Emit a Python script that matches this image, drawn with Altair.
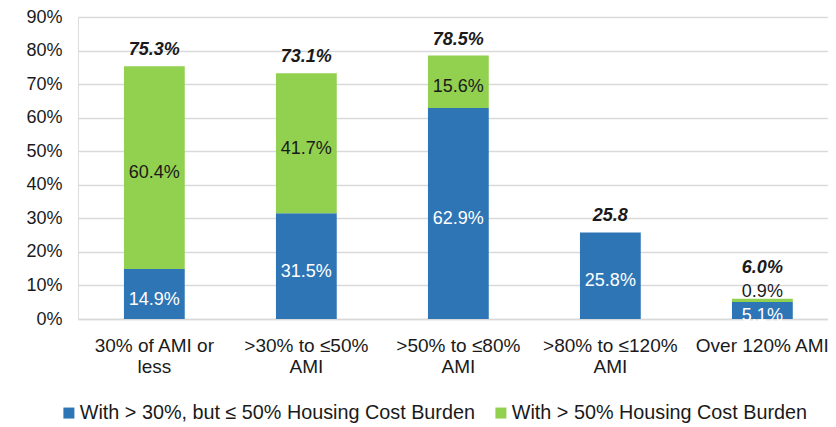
import altair as alt
import pandas as pd

categories = ["30% of AMI or\nless", ">30% to ≤50%\nAMI", ">50% to ≤80%\nAMI",
              ">80% to ≤120%\nAMI", "Over 120% AMI"]
burden_30_50 = [14.9, 31.5, 62.9, 25.8, 5.1]
burden_50 = [60.4, 41.7, 15.6, 0.0, 0.9]
total_labels = ["75.3%", "73.1%", "78.5%", "25.8", "6.0%"]
series_names = ["With > 30%, but ≤ 50% Housing Cost Burden",
                "With > 50% Housing Cost Burden"]
y_ticks = [0, 10, 20, 30, 40, 50, 60, 70, 80, 90]

BLUE = "#2E75B6"
GREEN = "#92D050"
FONT = "Liberation Sans"
TXT = "#1a1a1a"

rows = []
for i, c in enumerate(categories):
    a, b = burden_30_50[i], burden_50[i]
    rows.append(dict(cat=c, series=series_names[0], value=a, y0=0, y1=a,
                     mid=a / 2, total=a + b, label=f"{a:.1f}%", small=a < 3))
    rows.append(dict(cat=c, series=series_names[1], value=b, y0=a, y1=a + b,
                     mid=a + b / 2, total=a + b, label=f"{b:.1f}%", small=b < 3))
df = pd.DataFrame(rows)
df = df[df["value"] > 0]

tot = pd.DataFrame(dict(cat=categories,
                        total=[a + b for a, b in zip(burden_30_50, burden_50)],
                        label=total_labels,
                        smallgreen=[0 < b < 3 for b in burden_50]))

xaxis = alt.Axis(labelExpr="split(datum.label, '\\n')", labelAngle=0,
                 labelFontSize=19, labelLineHeight=21, labelPadding=17,
                 labelColor=TXT, ticks=False, domain=True,
                 domainColor="#d9d9d9", domainWidth=1.5, labelFont=FONT)
xscale = alt.Scale(paddingInner=0.6, paddingOuter=0.267, align=0.566)
yscale = alt.Scale(domain=[0, 90], nice=False)
yaxis = alt.Axis(values=y_ticks, labelExpr="datum.value + '%'", title=None,
                 labelFontSize=18, labelPadding=16, ticks=False, domain=False,
                 gridColor="#d9d9d9", gridWidth=1.5, labelColor=TXT,
                 labelFont=FONT, labelOverlap=False)


def X():
    return alt.X("cat:N", sort=categories, title=None, scale=xscale, axis=xaxis)


def Y(field):
    return alt.Y(field, scale=yscale, axis=yaxis, title=None)


bars = alt.Chart(df).mark_bar().encode(
    x=X(),
    y=Y("y0:Q"),
    y2="y1:Q",
    color=alt.Color("series:N", sort=series_names,
                    scale=alt.Scale(domain=series_names, range=[BLUE, GREEN]),
                    legend=alt.Legend(title=None, orient="none", direction="horizontal",
                                      legendX=-19, legendY=386, symbolType="square",
                                      symbolSize=121, symbolStrokeWidth=0,
                                      labelFontSize=19.8, labelFont=FONT,
                                      labelColor=TXT, columnPadding=16,
                                      labelOffset=1, padding=0, labelLimit=1000)),
)

mid_labels = alt.Chart(df).transform_filter("!datum.small").mark_text(
    baseline="middle", fontSize=18, font=FONT, dy=5.5
).encode(
    x=X(),
    y=Y("mid:Q"),
    text="label:N",
    color=alt.condition(alt.datum.series == series_names[0],
                        alt.value("#ffffff"), alt.value(TXT)),
)

small_labels = alt.Chart(df).transform_filter(
    "datum.small && datum.series == '" + series_names[1] + "'").mark_text(
    baseline="alphabetic", fontSize=18, font=FONT, dy=-2, color=TXT
).encode(
    x=X(),
    y=Y("total:Q"),
    text="label:N",
)

small_blue = alt.Chart(df).transform_filter(
    "datum.small && datum.series == '" + series_names[0] + "'").mark_text(
    baseline="middle", fontSize=18, font=FONT, dy=7, color="#ffffff", clip=True
).encode(
    x=X(),
    y=Y("mid:Q"),
    text="label:N",
)

totals = alt.Chart(tot).transform_filter("!datum.smallgreen").mark_text(
    baseline="alphabetic", fontSize=18, font=FONT, fontWeight="bold",
    fontStyle="italic", dy=-11, color=TXT
).encode(
    x=X(),
    y=Y("total:Q"),
    text="label:N",
)

totals_small = alt.Chart(tot).transform_filter("datum.smallgreen").mark_text(
    baseline="alphabetic", fontSize=18, font=FONT, fontWeight="bold",
    fontStyle="italic", dy=-26, color=TXT
).encode(
    x=X(),
    y=Y("total:Q"),
    text="label:N",
)

chart = alt.layer(bars, mid_labels, small_blue, small_labels, totals, totals_small).properties(
    width=750, height=302,
    autosize=alt.AutoSizeParams(type="none"),
    padding={"left": 70, "top": 9, "right": 0, "bottom": 104},
).configure_view(stroke=None).configure(background="white")

chart.save("out.html", embed_options={"renderer": "svg", "actions": False})
